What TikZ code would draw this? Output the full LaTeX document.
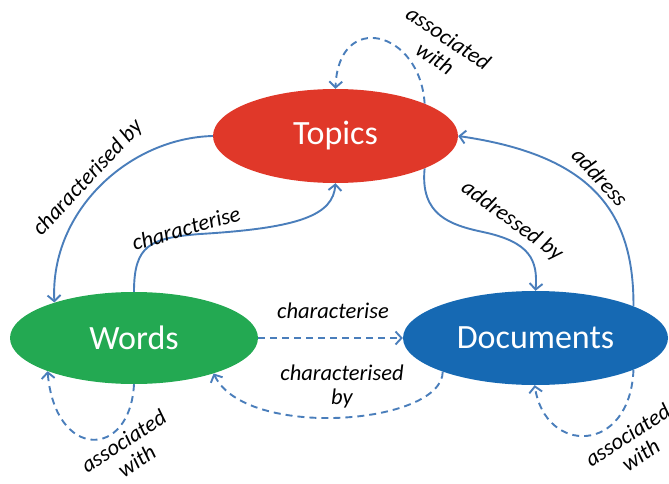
\documentclass[tikz,border=0pt]{standalone}
\usepackage{fontspec}
\setmainfont{Carlito}
\usetikzlibrary{arrows.meta,shapes.geometric,backgrounds}
\definecolor{topicred}{RGB}{224,56,41}
\definecolor{wordgreen}{RGB}{35,169,82}
\definecolor{docblue}{RGB}{22,105,179}
\definecolor{linkblue}{RGB}{74,126,187}
\tikzset{
  blob/.style={ellipse,inner sep=0pt,text=white,font=\fontsize{34}{40}\selectfont},
  link/.style={draw=linkblue,line width=1.9pt,-{Straight Barb[length=6pt,width=13pt,line width=1.9pt]}},
  dlink/.style={link,dash pattern=on 7pt off 5pt},
  lbl/.style={text=black,font=\fontsize{22.5}{24}\selectfont\itshape,align=center,inner sep=0pt}
}
\begin{document}
\begin{tikzpicture}[x=1pt,y=-1pt]
\useasboundingbox (0,0) rectangle (669,484);
% nodes
\node[blob,fill=topicred,minimum width=245pt,minimum height=94pt] (T) at (335.5,136) {Topics};
\node[blob,fill=wordgreen,minimum width=248pt,minimum height=92pt] (W) at (134,338) {Words};
\node[blob,fill=docblue,minimum width=265pt,minimum height=94pt] (D) at (535.5,338) {Documents};
% connectors
\begin{scope}[on background layer]
\coordinate (c1) at (200,234);
\coordinate (c2) at (483,232);
\draw[link] (T.west) .. controls (130,138) and (50,210) .. (W.156);
\draw[link] (W.north) .. controls (134,245) and (150,238) .. (c1) .. controls (300,228) and (333,215) .. (T.south);
\draw[link] (T.340) .. controls (420,215) and (450,225) .. (c2) .. controls (530,242) and (538,260) .. (D.north);
\draw[link] (D.18) .. controls (634,210) and (590,155) .. (T.east);
\draw[dlink] (T.20) .. controls (420,30) and (338,10) .. (T.north);
\draw[dlink] (W.east) -- (D.west);
\draw[dlink] (D.200) .. controls (442,425) and (245,440) .. (W.336);
\draw[dlink] (W.south) .. controls (130,460) and (55,460) .. (W.201);
\draw[dlink] (D.342) .. controls (630,455) and (545,455) .. (D.269);
\end{scope}
% labels
\node[lbl,rotate=47] (l1) at (88,178) {characterised by};
\node[lbl,rotate=16] (l2) at (186,228) {characterise};
\node[lbl,rotate=-36] (l3) at (512,221) {addressed by};
\node[lbl,rotate=-47] (l4) at (600,177) {address};
\node[lbl,rotate=-34] (l5) at (442,48) {associated\\with};
\node[lbl] (l6) at (333,311) {characterise};
\node[lbl] (l7) at (342,386) {characterised\\by};
\node[lbl,rotate=33] (l8) at (130,451) {associated\\with};
\node[lbl,rotate=33] (l9) at (634,445) {associated\\with};
\end{tikzpicture}
\end{document}
